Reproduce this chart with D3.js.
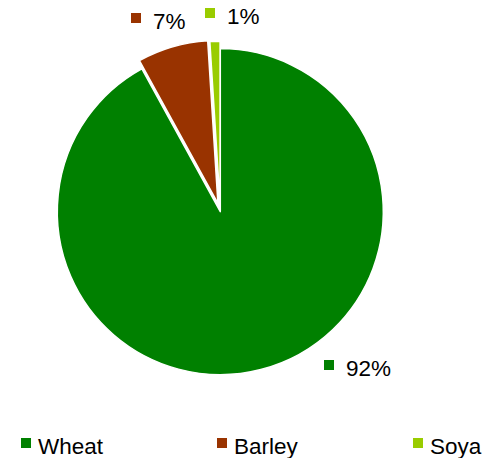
<!DOCTYPE html>
<html>
<head>
<meta charset="utf-8">
<script src="https://cdn.jsdelivr.net/npm/d3@7"></script>
<style>
  html, body { margin: 0; padding: 0; background: #fff; }
  svg { display: block; }
  text { font-family: "Liberation Sans", Arial, sans-serif; fill: #000; }
</style>
</head>
<body>
<svg id="chart" width="492" height="458"></svg>
<script>
// Crop shares (percent)
const categories = ["Wheat", "Barley", "Soya"];
const values = [92, 7, 1];
const colors = ["#008000", "#993300", "#99CC00"];
// Slices pulled out from the centre (px)
const explode = [0, 8.5, 7.3];
// Data label boxes: marker top-left corner
const labelAnchors = [[324, 360], [131, 13], [205, 8]];
// Legend marker x positions
const legendX = [21, 217, 413];

const svg = d3.select("#chart");
const cx = 220.3, cy = 211.6, radius = 163;

const pie = d3.pie().sort(null).value(d => d)
  .startAngle(0).endAngle(2 * Math.PI);
const arcs = pie(values);
const arc = d3.arc().innerRadius(0).outerRadius(radius);

const g = svg.append("g").attr("transform", `translate(${cx},${cy})`);

g.selectAll("path.slice")
  .data(arcs)
  .join("path")
  .attr("class", "slice")
  .attr("d", arc)
  .attr("fill", (d, i) => colors[i])
  .attr("stroke", "#fff")
  .attr("stroke-width", 1.5)
  .attr("stroke-linejoin", "round")
  .attr("transform", (d, i) => {
    const a = (d.startAngle + d.endAngle) / 2;
    return `translate(${explode[i] * Math.sin(a)},${-explode[i] * Math.cos(a)})`;
  });

// Data labels
const lbl = svg.selectAll("g.dlabel")
  .data(arcs)
  .join("g")
  .attr("class", "dlabel")
  .attr("transform", (d, i) => `translate(${labelAnchors[i][0]},${labelAnchors[i][1]})`);
lbl.append("rect")
  .attr("width", 10).attr("height", 10)
  .attr("fill", (d, i) => colors[i]);
lbl.append("text")
  .attr("x", 22).attr("y", 16)
  .attr("font-size", 22.5)
  .text(d => Math.round(d.data) + "%");

// Legend
const leg = svg.selectAll("g.legend")
  .data(categories)
  .join("g")
  .attr("class", "legend")
  .attr("transform", (d, i) => `translate(${legendX[i]},438)`);
leg.append("rect")
  .attr("width", 10).attr("height", 10)
  .attr("fill", (d, i) => colors[i]);
leg.append("text")
  .attr("x", 17).attr("y", 15.5)
  .attr("font-size", 22.5)
  .text(d => d);
</script>
</body>
</html>
